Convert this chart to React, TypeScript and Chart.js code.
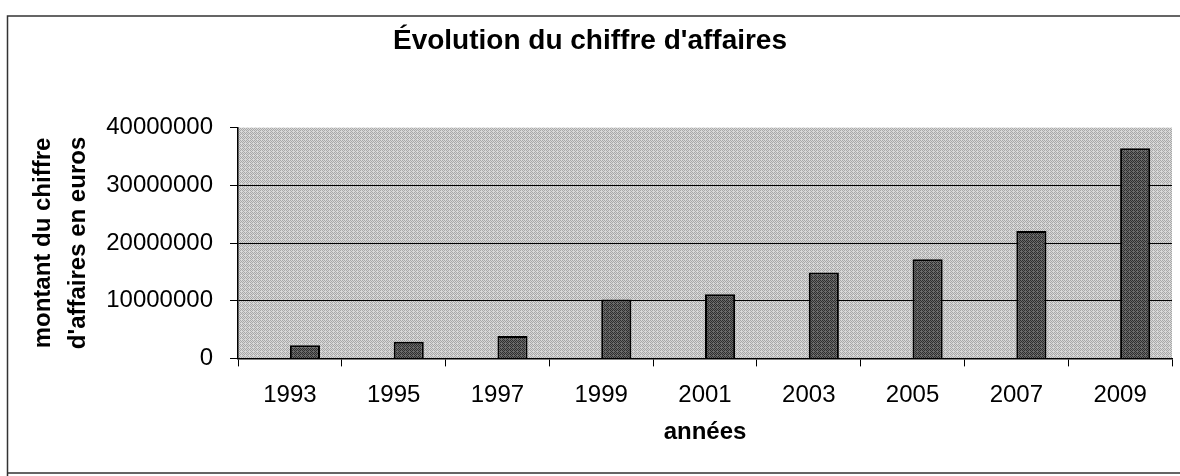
import React, { useEffect, useRef } from "react";
import { Chart, registerables } from "chart.js";

Chart.register(...registerables);

const categories = ["1993", "1995", "1997", "1999", "2001", "2003", "2005", "2007", "2009"];
const chiffreAffaires = [2300000, 2900000, 3900000, 10200000, 11100000, 14900000, 17200000, 22100000, 36400000];
const emptySeries = [null, null, null, null, null, null, null, null, null];
const yTicks = [0, 10000000, 20000000, 30000000, 40000000];

const chartTitle = "Évolution du chiffre d'affaires";
const xTitle = "années";
const yTitle = ["montant du chiffre", "d'affaires en euros"];

const FONT = "'Liberation Sans', Arial, sans-serif";

function makePattern(c1: string, c2: string): CanvasPattern | string {
  const p = document.createElement("canvas");
  p.width = 4;
  p.height = 4;
  const ctx = p.getContext("2d");
  if (!ctx) return c1;
  for (let y = 0; y < 4; y++) {
    for (let x = 0; x < 4; x++) {
      ctx.fillStyle = (x + y) % 2 === 0 ? c1 : c2;
      ctx.fillRect(x, y, 1, 1);
    }
  }
  ctx.fillStyle = c2;
  ctx.fillRect(1, 3, 1, 1);
  ctx.fillRect(3, 0, 1, 1);
  const pat = ctx.createPattern(p, "repeat");
  return pat || c1;
}

export default function App() {
  const ref = useRef<HTMLCanvasElement | null>(null);

  useEffect(() => {
    document.body.style.margin = "0";
    const canvas = ref.current;
    if (!canvas) return;

    const plotBg = makePattern("#a8a8a8", "#d8d8d8");
    const barFill = makePattern("#2e2e2e", "#6a6a6a");

    const framePlugin = {
      id: "frame",
      beforeDraw(chart: any) {
        const { ctx, chartArea } = chart;
        ctx.save();
        ctx.fillStyle = "#ffffff";
        ctx.fillRect(0, 0, chart.width, chart.height);
        ctx.fillStyle = plotBg as any;
        ctx.fillRect(chartArea.left, chartArea.top, chartArea.right - chartArea.left, chartArea.bottom - chartArea.top);
        ctx.strokeStyle = "#333333";
        ctx.lineWidth = 1.5;
        ctx.beginPath();
        ctx.moveTo(1180, 16);
        ctx.lineTo(7.5, 16);
        ctx.lineTo(7.5, 476);
        ctx.moveTo(7.5, 473);
        ctx.lineTo(1180, 473);
        ctx.stroke();
        ctx.restore();
      },
    };

    const chart = new Chart(canvas, {
      type: "bar",
      data: {
        labels: categories,
        datasets: [
          {
            label: "",
            data: emptySeries as any,
            backgroundColor: "rgba(0,0,0,0)",
          },
          {
            label: "chiffre d'affaires",
            data: chiffreAffaires,
            backgroundColor: barFill as any,
            borderColor: "#000000",
            borderWidth: 2,
            categoryPercentage: 0.58,
            barPercentage: 1,
          },
        ],
      },
      options: {
        responsive: false,
        animation: false,
        layout: { padding: { left: 8, right: 8, top: 0, bottom: 29 } },
        datasets: { bar: { categoryPercentage: 0.58, barPercentage: 1 } },
        plugins: {
          legend: { display: false },
          tooltip: { enabled: false },
          title: {
            display: true,
            text: chartTitle,
            color: "#000000",
            font: { family: FONT, size: 28, weight: "bold" },
            padding: { top: 24, bottom: 70 },
          },
        },
        scales: {
          x: {
            grid: {
              offset: true,
              drawOnChartArea: false,
              drawTicks: true,
              tickLength: 8,
              tickColor: "#000000",
              color: "#000000",
            },
            border: { display: true, color: "#000000", width: 1.5 },
            ticks: {
              color: "#000000",
              font: { family: FONT, size: 24 },
              padding: 15,
              maxRotation: 0,
            },
            title: {
              display: true,
              text: xTitle,
              color: "#000000",
              font: { family: FONT, size: 24, weight: "bold" },
              padding: { top: -7, bottom: 0 },
            },
          },
          y: {
            min: 0,
            max: 40000000,
            afterFit(scale: any) {
              scale.width = 230;
            },
            afterBuildTicks(scale: any) {
              scale.ticks = yTicks.map((v) => ({ value: v }));
            },
            grid: {
              color: (c: any) =>
                c.tick && c.tick.value > 0 && c.tick.value < 40000000 ? "#000000" : "rgba(0,0,0,0)",
              tickColor: "#000000",
              tickLength: 8,
              lineWidth: 1,
            },
            border: { display: true, color: "#000000", width: 1.5 },
            ticks: {
              color: "#000000",
              font: { family: FONT, size: 24 },
              padding: 17,
              callback: (v: any) => String(v),
            },
            title: {
              display: true,
              text: yTitle,
              color: "#000000",
              font: { family: FONT, size: 24, weight: "bold", lineHeight: 1.45 },
              padding: { top: 18, bottom: 0 },
            },
          },
        },
      },
      plugins: [framePlugin],
    });

    return () => {
      chart.destroy();
    };
  }, []);

  return <canvas ref={ref} width={1180} height={476} style={{ display: "block" }} />;
}
